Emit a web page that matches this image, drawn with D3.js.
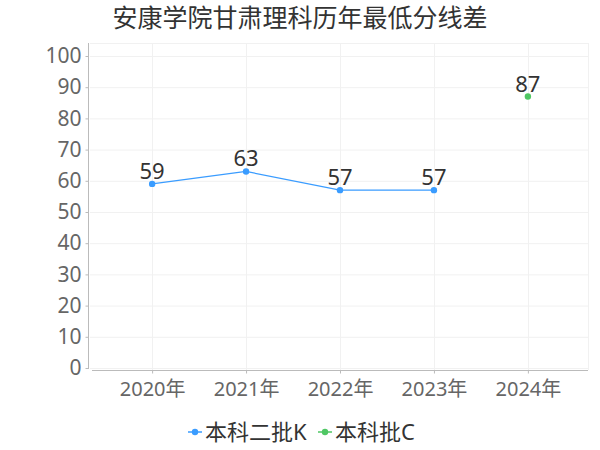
<!DOCTYPE html>
<html><head><meta charset="utf-8">
<script src="https://cdn.jsdelivr.net/npm/d3@7"></script>
<style>body{margin:0;background:#fff}svg{display:block}</style>
</head><body>
<script>
const title = "安康学院甘肃理科历年最低分线差";
const years = ["2020年","2021年","2022年","2023年","2024年"];
const seriesNames = ["本科二批K","本科批C"];
const seriesColors = ["#3a9cff","#4fc764"];
const seriesK = [59,63,57,57,null];
const seriesC = [null,null,null,null,87];
const yTicks = [0,10,20,30,40,50,60,70,80,90,100];

const W=600,H=450;
const svg=d3.select("body").append("svg").attr("width",W).attr("height",H);
const font='"Noto Sans","Noto Sans CJK SC",sans-serif';

const x=d3.scalePoint().domain(years).range([92,588]).padding(0.64);
const y=d3.scaleLinear().domain([0,100]).range([368,56]);

// grid
const g=svg.append("g");
g.selectAll(".hg").data(yTicks).enter().append("line")
 .attr("x1",90).attr("x2",588).attr("y1",d=>y(d)+0.5).attr("y2",d=>y(d)+0.5)
 .attr("stroke","#f1f1f1");
g.append("line").attr("x1",90).attr("x2",588).attr("y1",43.5).attr("y2",43.5).attr("stroke","#f1f1f1");
g.selectAll(".vg").data(years).enter().append("line")
 .attr("x1",d=>Math.round(x(d))+0.5).attr("x2",d=>Math.round(x(d))+0.5).attr("y1",43).attr("y2",370)
 .attr("stroke","#f1f1f1");
g.append("line").attr("x1",588.5).attr("x2",588.5).attr("y1",43).attr("y2",370).attr("stroke","#f1f1f1");

// y axis
const ya=svg.append("g").attr("transform","translate(88.5,0)")
 .call(d3.axisLeft(y).tickValues(yTicks).tickSize(3).tickPadding(4));
ya.select(".domain").attr("stroke","#bbb").attr("d","M0,43V369");
ya.selectAll(".tick line").attr("stroke","#bbb");
ya.selectAll(".tick text").attr("font-family",font).attr("font-size",21).attr("fill","#666");

// x axis
const xa=svg.append("g").attr("transform","translate(0,370.5)")
 .call(d3.axisBottom(x).tickSize(3).tickPadding(8));
xa.select(".domain").attr("stroke","#bbb").attr("d","M92,0H588");
xa.selectAll(".tick line").attr("stroke","#bbb");
xa.selectAll(".tick text").attr("font-family",font).attr("font-size",20).attr("fill","#666");

// series
const all=[seriesK,seriesC];
all.forEach((vals,i)=>{
  const pts=years.map((yr,j)=>({yr,v:vals[j]})).filter(d=>d.v!=null);
  const line=d3.line().x(d=>x(d.yr)).y(d=>y(d.v));
  svg.append("path").datum(pts).attr("d",line).attr("fill","none")
   .attr("stroke",seriesColors[i]).attr("stroke-width",1.2);
  svg.selectAll(".pt"+i).data(pts).enter().append("circle")
   .attr("cx",d=>x(d.yr)).attr("cy",d=>y(d.v)).attr("r",3.2).attr("fill",seriesColors[i]);
  svg.selectAll(".lb"+i).data(pts).enter().append("text")
   .attr("x",d=>x(d.yr)).attr("y",d=>y(d.v)-5).attr("text-anchor","middle")
   .attr("font-family",font).attr("font-size",22).attr("fill","#333").text(d=>d.v);
});

// title
svg.append("text").attr("x",300).attr("y",27).attr("text-anchor","middle")
 .attr("font-family",font).attr("font-size",25).attr("fill","#333").text(title);

// legend
const legX=[188,318];
seriesNames.forEach((n,i)=>{
  const lg=svg.append("g").attr("transform",`translate(${legX[i]},432)`);
  lg.append("line").attr("x1",0).attr("x2",14).attr("y1",0).attr("y2",0).attr("stroke",seriesColors[i]).attr("stroke-width",1.5);
  lg.append("circle").attr("cx",7).attr("cy",0).attr("r",3.2).attr("fill",seriesColors[i]);
  lg.append("text").attr("x",17).attr("y",8).attr("font-family",font).attr("font-size",22).attr("fill","#333").text(n);
});
</script>
</body></html>
